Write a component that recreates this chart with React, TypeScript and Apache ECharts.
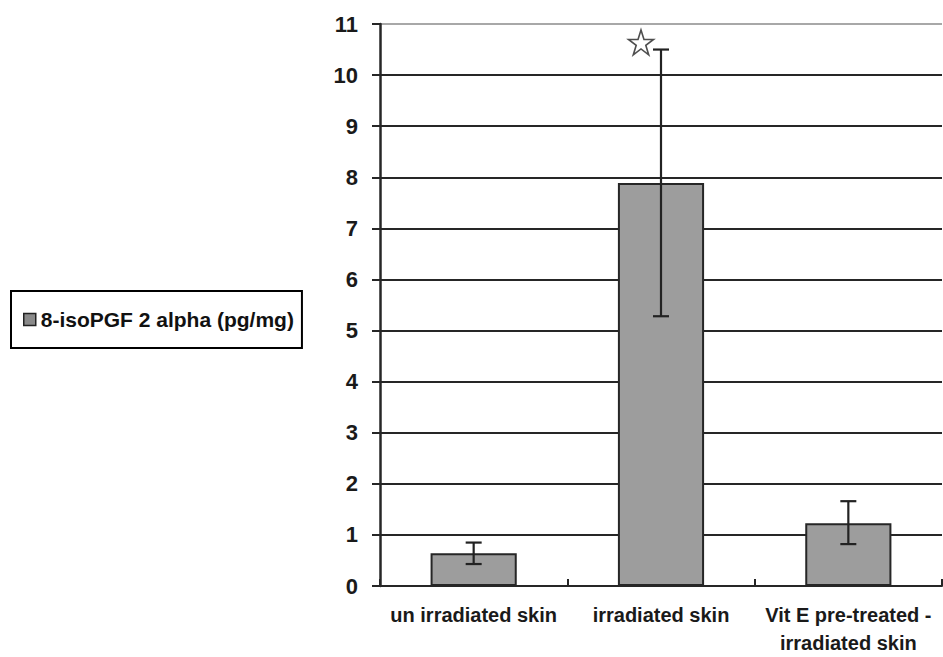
import React, { useEffect, useRef } from "react";
import * as echarts from "echarts";

const categories = ["un irradiated skin", "irradiated skin", "Vit E pre-treated -\nirradiated skin"];
const means = [0.64, 7.89, 1.23];
const errLow = [0.43, 5.28, 0.82];
const errHigh = [0.85, 10.5, 1.66];
const yTicks = { min: 0, max: 11, interval: 1 };
const seriesName = "8-isoPGF 2 alpha (pg/mg)";
const starPoint = [{ category: 1, value: 10.64 }];

const STAR =
  "path://M50,2 L61.8,38.2 L99.5,38.2 L69,60.5 L80.6,96.8 L50,74.3 L19.4,96.8 L31,60.5 L0.5,38.2 L38.2,38.2 Z";

export default function App() {
  const ref = useRef<HTMLDivElement>(null);
  useEffect(() => {
    const chart = echarts.init(ref.current!, null, { renderer: "svg" });
    const font = "'Liberation Sans', Arial, sans-serif";
    const gridColors: string[] = [];
    for (let v = yTicks.min; v < yTicks.max; v += yTicks.interval) gridColors.push("#262626");
    gridColors.push("#a8a8a8");
    chart.setOption({
      animation: false,
      backgroundColor: "#ffffff",
      textStyle: { fontFamily: font },
      legend: {
        left: 11,
        top: 291,
        orient: "vertical",
        data: [{ name: seriesName, icon: "rect", itemStyle: { color: "#8a8a8a", borderColor: "#222", borderWidth: 1.5 } }],
        itemWidth: 12,
        itemHeight: 12,
        itemGap: 0,
        padding: [18, 8, 18, 12],
        borderColor: "#000",
        borderWidth: 2,
        textStyle: { fontSize: 21, fontWeight: "bold", color: "#111", fontFamily: font },
        selectedMode: false,
      },
      grid: { left: 380, right: 1, top: 24, bottom: 65, containLabel: false },
      xAxis: {
        type: "category",
        data: categories,
        axisLine: { show: true, lineStyle: { color: "#262626", width: 2 } },
        axisTick: { show: true, inside: true, length: 7, alignWithLabel: false, lineStyle: { color: "#262626", width: 2 } },
        axisLabel: {
          margin: 15,
          fontSize: 20,
          fontWeight: "bold",
          color: "#1a1a1a",
          lineHeight: 28,
          fontFamily: font,
          interval: 0,
        },
        splitLine: { show: false },
      },
      yAxis: {
        type: "value",
        min: yTicks.min,
        max: yTicks.max,
        interval: yTicks.interval,
        axisLine: { show: true, lineStyle: { color: "#262626", width: 2.5 } },
        axisTick: { show: true, length: 8, lineStyle: { color: "#262626", width: 2 } },
        axisLabel: { margin: 22, fontSize: 22, fontWeight: "bold", color: "#1a1a1a", fontFamily: font },
        splitLine: { show: true, lineStyle: { color: gridColors, width: 2 } },
      },
      series: [
        {
          name: seriesName,
          type: "bar",
          data: means,
          barWidth: "46%",
          itemStyle: { color: "#9d9d9d", borderColor: "#262626", borderWidth: 2 },
          z: 3,
        },
        {
          name: "err",
          type: "custom",
          z: 5,
          data: means.map((_, i) => [i, errLow[i], errHigh[i]]),
          renderItem: (params: any, api: any) => {
            const x = api.value(0);
            const lo = api.coord([x, api.value(1)]);
            const hi = api.coord([x, api.value(2)]);
            const hw = 8;
            const style = { stroke: "#222", lineWidth: 2.2 };
            return {
              type: "group",
              children: [
                { type: "line", shape: { x1: lo[0], y1: lo[1], x2: hi[0], y2: hi[1] }, style },
                { type: "line", shape: { x1: lo[0] - hw, y1: lo[1], x2: lo[0] + hw, y2: lo[1] }, style },
                { type: "line", shape: { x1: hi[0] - hw, y1: hi[1], x2: hi[0] + hw, y2: hi[1] }, style },
              ],
            };
          },
        },
        {
          name: "star",
          type: "scatter",
          z: 6,
          symbol: STAR,
          symbolSize: 25,
          symbolOffset: [-20, 0],
          itemStyle: { color: "#ffffff", borderColor: "#222", borderWidth: 1.6 },
          data: starPoint.map((p) => [p.category, p.value]),
        },
      ],
    });
    return () => chart.dispose();
  }, []);
  return <div ref={ref} style={{ width: 943, height: 657, position: "absolute", left: 0, top: 0 }} />;
}
